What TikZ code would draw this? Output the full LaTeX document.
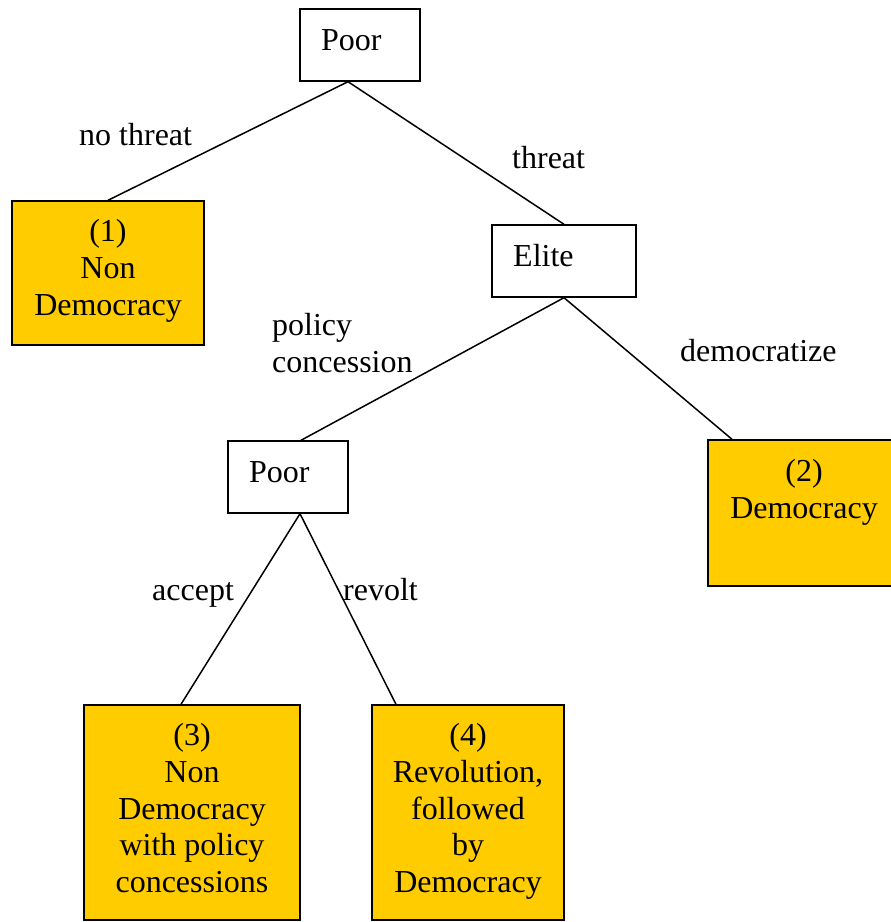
\documentclass[tikz,border=0pt]{standalone}
\usepackage{fontspec}
\setmainfont{Liberation Serif}
\usepackage{tikz}
\definecolor{gold}{HTML}{FFCC00}
\tikzstyle{every node}=[font=\fontsize{32}{36.7}\selectfont, inner sep=0pt]
\tikzstyle{decision}=[draw, line width=1.4pt, fill=white, minimum width=120pt, minimum height=72pt]
\tikzstyle{outcome}=[draw, line width=1.4pt, fill=gold, minimum width=192pt, minimum height=144pt]
\tikzstyle{branch}=[line width=1.5pt]

\begin{document}
\begin{tikzpicture}[x=1pt,y=-1pt]
    \useasboundingbox (0,0) rectangle (891,922);
    % decision nodes
    \node[decision] (p1) at (360,45) {};
    \node[decision,minimum width=144pt] (el) at (564,261) {};
    \node[decision] (p2) at (288,477) {};
    \node[anchor=base west] (p1t) at (321,50) {Poor};
    \node[anchor=base west] (elt) at (513,266) {Elite};
    \node[anchor=base west] (p2t) at (249,482) {Poor};
    % outcomes
    \node[outcome] (n1) at (108,273) {};
    \node[outcome,minimum height=146pt] (n2) at (804,513) {};
    \node[outcome,minimum width=216pt,minimum height=215pt] (n3) at (192,812.5) {};
    \node[outcome,minimum height=215pt] (n4) at (468,812.5) {};
    \node[anchor=north,align=center] (n1t) at (108,219.4) {(1)\\Non\\Democracy};
    \node[anchor=north,align=center] (n2t) at (804,459.4) {(2)\\Democracy};
    \node[anchor=north,align=center] (n3t) at (192,723.4) {(3)\\Non\\Democracy\\with policy\\concessions};
    \node[anchor=north,align=center] (n4t) at (468,723.4) {(4)\\Revolution,\\followed\\by\\Democracy};
    % branches
    \draw[branch] ([xshift=-12pt]p1.south) -- (n1.north);
    \draw[branch] ([xshift=-12pt]p1.south) -- (el.north);
    \draw[branch] (el.south) -- ([xshift=13pt]p2.north);
    \draw[branch] (el.south) -- ([xshift=-72pt]n2.north);
    \draw[branch] ([xshift=12pt]p2.south) -- ([xshift=-11pt]n3.north);
    \draw[branch] ([xshift=12pt]p2.south) -- ([xshift=-72pt]n4.north);
    % labels
    \node[anchor=base west] (l1) at (79,145) {no threat};
    \node[anchor=base west] (l2) at (512,168) {threat};
    \node[anchor=north west,align=left] (l3) at (272,313) {policy\\concession};
    \node[anchor=base west] (l4) at (680,361) {democratize};
    \node[anchor=base west] (l5) at (152,600) {accept};
    \node[anchor=base west] (l6) at (343,600) {revolt};
\end{tikzpicture}
\end{document}
